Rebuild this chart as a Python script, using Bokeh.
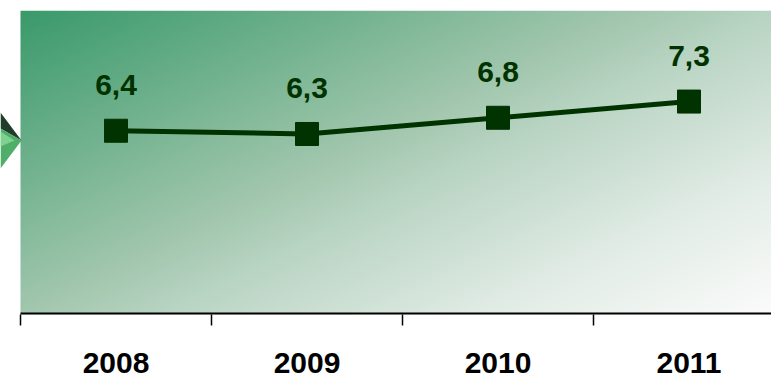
import numpy as np
from bokeh.plotting import figure
from bokeh.models import (ColumnDataSource, FixedTicker, Range1d, PolyAnnotation,
                          LabelSet)
from bokeh.core.properties import value
from bokeh.embed import file_html
from bokeh.resources import INLINE

# --- data -------------------------------------------------------------
years = ["2008", "2009", "2010", "2011"]
values = [6.4, 6.3, 6.8, 7.3]
value_labels = ["6,4", "6,3", "6,8", "7,3"]

positions = list(range(len(years)))

LINE_GREEN = "#003300"
CAT_PX = 191          # width of one category slot in pixels
LEFT_PAD_PX = 20      # strip left of the plot area holding the bevel marker

p = figure(width=771, height=378, output_backend="svg", toolbar_location=None,
           x_range=Range1d(-0.5 - LEFT_PAD_PX / CAT_PX, -0.5 + 751 / CAT_PX),
           y_range=Range1d(0.73, 10.11),
           y_axis_location=None, min_border_left=0, min_border_right=0,
           min_border_top=10, min_border_bottom=64,
           background_fill_color="white", border_fill_color="white",
           outline_line_color=None)
p.grid.visible = False

xr, yr = p.x_range, p.y_range
x0 = -0.5

# --- diagonal green-to-white backdrop ---------------------------------
GW, GH = 376, 152
u = np.linspace(0, 1, GW)[None, :]
v = 1 - np.linspace(0, 1, GH)[:, None]          # 0 at the top edge
t = 0.55 * u + 0.45 * v
stops = [0.0, 0.45, 0.56, 0.8, 1.0]
reds = [58, 162, 186, 227, 251]
greens = [154, 199, 213, 237, 251]
blues = [106, 174, 196, 231, 251]
img = np.empty((GH, GW), dtype=np.uint32)
view = img.view(dtype=np.uint8).reshape((GH, GW, 4))
view[..., 0] = np.interp(t, stops, reds).astype(np.uint8)
view[..., 1] = np.interp(t, stops, greens).astype(np.uint8)
view[..., 2] = np.interp(t, stops, blues).astype(np.uint8)
view[..., 3] = 255
p.image_rgba(image=[img], x=x0, y=yr.start, dw=xr.end - x0,
             dh=yr.end - yr.start, level="image")

# axis baseline along the bottom of the shaded area (half is clipped away)
p.segment(x0=[x0], y0=[yr.start], x1=[xr.end], y1=[yr.start],
          line_color="black", line_width=4)

# --- series -----------------------------------------------------------
src = ColumnDataSource(dict(x=positions, y=values, label=value_labels))
p.line("x", "y", source=src, line_color=LINE_GREEN, line_width=5)
p.scatter("x", "y", source=src, marker="square", size=23,
          fill_color=LINE_GREEN, line_color=LINE_GREEN)
p.add_layout(LabelSet(x="x", y="y", text="label", source=src, y_offset=36,
                      text_align="center", text_baseline="alphabetic",
                      text_font=value("Liberation Sans"), text_font_style="bold",
                      text_font_size="30px", text_color=LINE_GREEN))

# --- category axis: labels at centres, separators as minor ticks --------
ax = p.xaxis[0]
ax.ticker = FixedTicker(ticks=positions,
                        minor_ticks=[i - 0.5 for i in range(len(years) + 1)])
ax.major_label_overrides = {i: y for i, y in enumerate(years)}
ax.major_tick_line_color = None
ax.major_tick_out = 0
ax.major_tick_in = 0
ax.minor_tick_out = 11
ax.minor_tick_in = 0
ax.minor_tick_line_color = "black"
ax.minor_tick_line_width = 1.5
ax.axis_line_color = None
ax.major_label_standoff = 27
ax.major_label_text_font = "Liberation Sans"
ax.major_label_text_font_style = "bold"
ax.major_label_text_font_size = "30px"
ax.major_label_text_color = "black"

# --- bevelled marker at the left edge ---------------------------------
bevel = [
    ([0, 21, 0], [112, 140, 128], "#1f3d2a"),
    ([0, 21, 0], [128, 140, 168], "#4fae6a"),
    ([0, 14, 0], [131, 140, 146], "#7fd18f"),
]
for bx, by, col in bevel:
    p.add_layout(PolyAnnotation(xs=bx, ys=by, xs_units="canvas", ys_units="canvas",
                                fill_color=col, fill_alpha=1, line_color=None,
                                level="overlay"))

open("out.html", "w").write(file_html(p, INLINE))
